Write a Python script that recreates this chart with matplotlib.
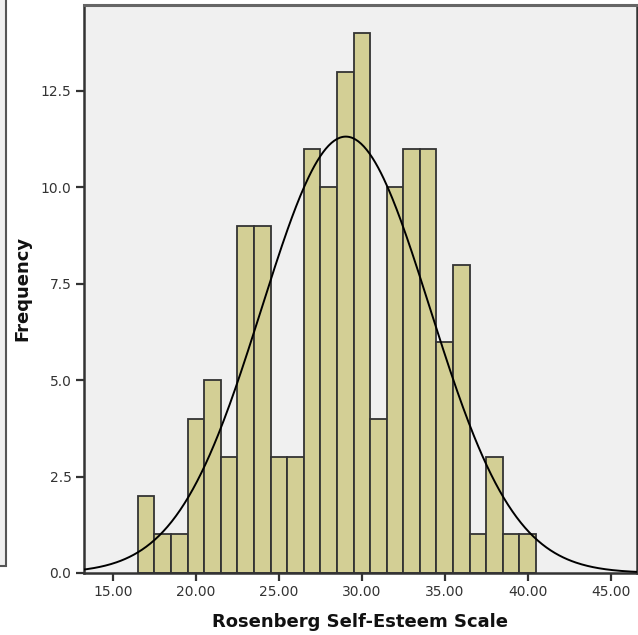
import numpy as np
import matplotlib
matplotlib.use('Agg')
import matplotlib.pyplot as plt
from matplotlib.patches import Rectangle

# Rosenberg self-esteem scores, one bin per integer score
scores = [17, 18, 19, 20, 21, 22, 23, 24, 25, 26, 27, 28,
          29, 30, 31, 32, 33, 34, 35, 36, 37, 38, 39, 40]
counts = [2, 1, 1, 4, 5, 3, 9, 9, 3, 3, 11, 10,
          13, 14, 4, 10, 11, 11, 6, 8, 1, 3, 1, 1]
xticks = [15, 20, 25, 30, 35, 40, 45]
yticks = [0, 2.5, 5, 7.5, 10, 12.5]

scores = np.array(scores, dtype=float)
counts = np.array(counts, dtype=float)
n = counts.sum()
mean = (scores * counts).sum() / n
sd = np.sqrt((counts * (scores - mean) ** 2).sum() / (n - 1))

fig = plt.figure(figsize=(6.38, 6.35), dpi=100)

# edge of the neighbouring panel, cropped at the left
fig.patches.append(Rectangle((-0.05, 1 - 566 / 635), 0.05 + 6 / 638, 1.0,
                             transform=fig.transFigure, facecolor='#efefef',
                             edgecolor='#555555', linewidth=1.5, zorder=0))

ax = fig.add_axes([84 / 638, 1 - 573 / 635, 553 / 638, 568 / 635])
ax.set_facecolor('#f0f0f0')

ax.bar(scores, counts, width=1.0, color='#d3cf95', edgecolor='#333333',
       linewidth=1.3, zorder=2)

xs = np.linspace(13.0, 47.0, 400)
curve = n * 1.0 / (sd * np.sqrt(2 * np.pi)) * np.exp(-0.5 * ((xs - mean) / sd) ** 2)
ax.plot(xs, curve, color='black', linewidth=1.4, zorder=3)

ax.set_xlim(13.25, 46.59)
ax.set_ylim(0, 14.73)
ax.set_xticks(xticks)
ax.set_xticklabels(['%.2f' % t for t in xticks])
ax.set_yticks(yticks)
ax.set_yticklabels(['%.1f' % t for t in yticks])

for side in ['left', 'bottom', 'right']:
    ax.spines[side].set_color('#333333')
    ax.spines[side].set_linewidth(1.8)
ax.spines['top'].set_color('#666666')
ax.spines['top'].set_linewidth(2.2)

ax.tick_params(axis='both', direction='out', length=6, width=1.6,
               color='#333333', labelcolor='#333333', labelsize=10, pad=3)

ax.set_xlabel('Rosenberg Self-Esteem Scale', fontsize=13, fontweight='bold',
              color='#111111', labelpad=10)
fig.text(22 / 638, 1 - 288 / 635, 'Frequency', rotation=90, fontsize=13,
         fontweight='bold', color='#111111', ha='center', va='center')

fig.savefig('out.png', dpi=100)
